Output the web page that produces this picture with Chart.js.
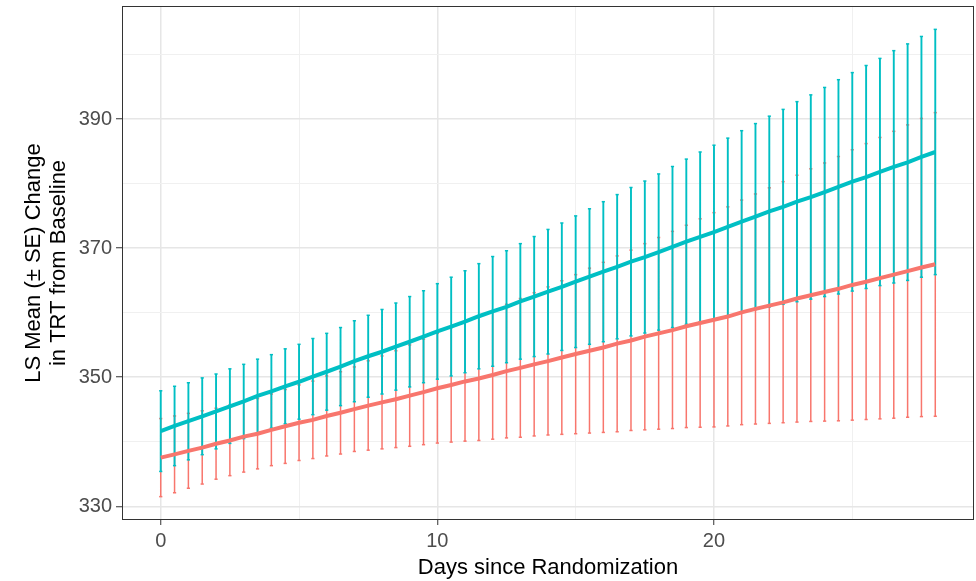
<!DOCTYPE html>
<html lang="en">
  <head>
    <meta charset="UTF-8" />
    <title>LS Mean Change in TRT from Baseline</title>
    <script src="https://cdn.jsdelivr.net/npm/chart.js"></script>
    <style>
      body {
        margin: 0;
        background-color: #ffffff;
      }
    </style>
  </head>
  <body>
    <canvas id="ls-chart" width="976" height="581"></canvas>

    <script>
      // Days since randomization (one error bar every half day)
      const days = [
        0, 0.5, 1, 1.5, 2, 2.5, 3, 3.5, 4, 4.5, 5, 5.5, 6, 6.5,
        7, 7.5, 8, 8.5, 9, 9.5, 10, 10.5, 11, 11.5, 12, 12.5, 13, 13.5,
        14, 14.5, 15, 15.5, 16, 16.5, 17, 17.5, 18, 18.5, 19, 19.5, 20, 20.5,
        21, 21.5, 22, 22.5, 23, 23.5, 24, 24.5, 25, 25.5, 26, 26.5, 27, 27.5, 28,
      ];

      // red group
      const redMean = [
        337.55, 338.05, 338.6, 339.1, 339.7, 340.2, 340.8, 341.25, 341.85, 342.4, 342.95, 343.4, 344.0, 344.5,
        345.05, 345.6, 346.1, 346.6, 347.15, 347.7, 348.3, 348.8, 349.35, 349.8, 350.35, 350.95, 351.45, 352.0,
        352.5, 353.05, 353.6, 354.1, 354.6, 355.2, 355.7, 356.3, 356.8, 357.3, 357.9, 358.4, 358.9, 359.4,
        360.05, 360.6, 361.1, 361.6, 362.2, 362.7, 363.2, 363.7, 364.3, 364.8, 365.35, 365.9, 366.45, 367.0, 367.5,
      ];
      const redLower = [
        331.5, 332.1, 332.8, 333.45, 334.2, 334.75, 335.3, 335.8, 336.3, 336.65, 337.1, 337.4, 337.8, 338.1,
        338.5, 338.7, 338.9, 339.1, 339.3, 339.55, 339.8, 339.95, 340.1, 340.2, 340.4, 340.6, 340.7, 340.9,
        341.05, 341.15, 341.25, 341.35, 341.45, 341.55, 341.75, 341.85, 341.95, 342.05, 342.2, 342.25, 342.3, 342.45,
        342.65, 342.75, 342.85, 342.95, 343.05, 343.15, 343.2, 343.25, 343.35, 343.45, 343.55, 343.65, 343.8, 343.9, 343.95,
      ];
      const redUpper = [
        343.6, 344.0, 344.4, 344.8, 345.2, 345.7, 346.3, 346.7, 347.4, 348.1, 348.8, 349.4, 350.2, 350.85,
        351.6, 352.55, 353.3, 354.1, 355.0, 355.9, 356.8, 357.7, 358.6, 359.4, 360.3, 361.3, 362.2, 363.1,
        364.0, 364.95, 365.9, 366.9, 367.8, 368.8, 369.7, 370.7, 371.65, 372.6, 373.55, 374.55, 375.5, 376.4,
        377.45, 378.4, 379.35, 380.3, 381.3, 382.3, 383.2, 384.2, 385.25, 386.2, 387.15, 388.1, 389.1, 390.1, 391.0,
      ];

      // blue group
      const blueMean = [
        341.65, 342.45, 343.2, 343.95, 344.7, 345.5, 346.25, 347.1, 347.8, 348.6, 349.3, 350.1, 350.85, 351.65,
        352.5, 353.25, 353.95, 354.75, 355.5, 356.3, 357.1, 357.85, 358.6, 359.45, 360.2, 360.9, 361.75, 362.5,
        363.25, 364.0, 364.8, 365.6, 366.35, 367.1, 367.9, 368.6, 369.4, 370.2, 371.0, 371.75, 372.5, 373.3,
        374.1, 374.9, 375.7, 376.4, 377.2, 377.9, 378.7, 379.5, 380.3, 381.0, 381.8, 382.6, 383.3, 384.15, 384.9,
      ];
      const blueLower = [
        335.4, 336.3, 337.2, 338.0, 338.9, 339.75, 340.5, 341.35, 342.1, 342.8, 343.5, 344.2, 344.9, 345.6,
        346.2, 346.9, 347.4, 348.0, 348.5, 349.15, 349.7, 350.2, 350.7, 351.3, 351.7, 352.25, 352.8, 353.2,
        353.6, 354.15, 354.6, 355.1, 355.5, 355.95, 356.4, 356.85, 357.3, 357.7, 358.2, 358.6, 359.0, 359.5,
        360.05, 360.5, 360.9, 361.3, 361.7, 362.1, 362.5, 362.9, 363.35, 363.75, 364.2, 364.6, 365.0, 365.5, 365.9,
      ];
      const blueUpper = [
        347.9, 348.6, 349.15, 349.9, 350.5, 351.3, 352.0, 352.8, 353.5, 354.4, 355.1, 356.0, 356.8, 357.7,
        358.75, 359.6, 360.5, 361.5, 362.5, 363.4, 364.5, 365.5, 366.5, 367.6, 368.7, 369.6, 370.7, 371.8,
        372.9, 373.9, 375.0, 376.1, 377.2, 378.3, 379.4, 380.4, 381.5, 382.65, 383.8, 384.9, 385.95, 387.05,
        388.2, 389.3, 390.45, 391.5, 392.7, 393.75, 394.9, 396.1, 397.2, 398.3, 399.4, 400.6, 401.65, 402.8, 403.9,
      ];

      const xMajor = [0, 10, 20];
      const xMinor = [5, 15, 25];
      const yMajor = [330, 350, 370, 390];
      const yMinor = [340, 360, 380, 400];

      const RED = "#F8766D";
      const BLUE = "#00BFC4";
      const FONT = "'Liberation Sans', Arial, sans-serif";

      // ggplot style 5% expansion of the data range
      const allY = redLower.concat(redUpper, blueLower, blueUpper);
      const yLo = Math.min(...allY);
      const yHi = Math.max(...allY);
      const xSpan = days[days.length - 1] - days[0];

      function barSegments(lo, hi) {
        const pts = [];
        days.forEach((d, i) => {
          pts.push({ x: d, y: lo[i] }, { x: d, y: hi[i] }, { x: d, y: null });
        });
        return pts;
      }

      function barCaps(lo, hi) {
        const pts = [];
        days.forEach((d, i) => {
          pts.push({ x: d, y: lo[i] }, { x: d, y: hi[i] });
        });
        return pts;
      }

      function meanLine(mean) {
        return days.map((d, i) => ({ x: d, y: mean[i] }));
      }

      const panelBorder = {
        id: "panelBorder",
        afterDatasetsDraw(chart) {
          const { ctx, chartArea: a } = chart;
          ctx.save();
          ctx.strokeStyle = "#333333";
          ctx.lineWidth = 1;
          ctx.strokeRect(a.left + 0.5, a.top + 0.5, a.right - a.left - 1, a.bottom - a.top - 1);
          ctx.restore();
        },
      };

      const isMajor = (list) => (ctx) => ctx.tick && list.includes(ctx.tick.value);

      new Chart(document.getElementById("ls-chart"), {
        type: "line",
        data: {
          datasets: [
            {
              label: "blue mean",
              data: meanLine(blueMean),
              borderColor: BLUE,
              borderWidth: 4,
              pointRadius: 0,
              order: 0,
            },
            {
              label: "red mean",
              data: meanLine(redMean),
              borderColor: RED,
              borderWidth: 4,
              pointRadius: 0,
              order: 1,
            },
            {
              type: "scatter",
              label: "blue caps",
              data: barCaps(blueLower, blueUpper),
              pointStyle: "line",
              pointRadius: 1.6,
              borderWidth: 1.5,
              borderColor: BLUE,
              backgroundColor: BLUE,
              order: 2,
            },
            {
              label: "blue bars",
              data: barSegments(blueLower, blueUpper),
              borderColor: BLUE,
              borderWidth: 1.9,
              pointRadius: 0,
              spanGaps: false,
              order: 3,
            },
            {
              type: "scatter",
              label: "red caps",
              data: barCaps(redLower, redUpper),
              pointStyle: "line",
              pointRadius: 1.6,
              borderWidth: 1.5,
              borderColor: RED,
              backgroundColor: RED,
              order: 4,
            },
            {
              label: "red bars",
              data: barSegments(redLower, redUpper),
              borderColor: RED,
              borderWidth: 1.5,
              pointRadius: 0,
              spanGaps: false,
              order: 5,
            },
          ],
        },
        options: {
          responsive: false,
          animation: false,
          devicePixelRatio: 1,
          events: [],
          layout: {
            autoPadding: false,
            padding: { top: 6, right: 2, left: 0, bottom: 0 },
          },
          plugins: {
            legend: { display: false },
            tooltip: { enabled: false },
          },
          scales: {
            x: {
              type: "linear",
              min: days[0] - 0.05 * xSpan,
              max: days[days.length - 1] + 0.05 * xSpan,
              afterBuildTicks: (scale) => {
                scale.ticks = xMajor.concat(xMinor).sort((a, b) => a - b).map((v) => ({ value: v }));
              },
              afterFit: (scale) => {
                scale.height = 61;
                scale.paddingLeft = 0;
                scale.paddingRight = 0;
              },
              ticks: {
                autoSkip: false,
                maxRotation: 0,
                padding: 4,
                color: "#4D4D4D",
                font: { family: FONT, size: 20 },
                callback: (v) => (xMajor.includes(v) ? String(v) : ""),
              },
              grid: {
                color: (ctx) => (isMajor(xMajor)(ctx) ? "#E6E6E6" : "#F0F0F0"),
                lineWidth: (ctx) => (isMajor(xMajor)(ctx) ? 1.5 : 1),
                tickLength: 5,
                tickWidth: 1,
                tickColor: (ctx) => (isMajor(xMajor)(ctx) ? "#333333" : "rgba(0,0,0,0)"),
              },
              border: { display: false },
              title: {
                display: true,
                text: "Days since Randomization",
                color: "#000000",
                font: { family: FONT, size: 22 },
                padding: { top: 0, bottom: 0 },
              },
            },
            y: {
              type: "linear",
              min: yLo - 0.05 * (yHi - yLo),
              max: yHi + 0.05 * (yHi - yLo),
              afterBuildTicks: (scale) => {
                scale.ticks = yMajor.concat(yMinor).sort((a, b) => a - b).map((v) => ({ value: v }));
              },
              afterFit: (scale) => {
                scale.width = 122;
                scale.paddingTop = 0;
                scale.paddingBottom = 0;
              },
              ticks: {
                autoSkip: false,
                padding: 4,
                color: "#4D4D4D",
                font: { family: FONT, size: 20 },
                callback: (v) => (yMajor.includes(v) ? String(v) : ""),
              },
              grid: {
                color: (ctx) => (isMajor(yMajor)(ctx) ? "#E6E6E6" : "#F0F0F0"),
                lineWidth: (ctx) => (isMajor(yMajor)(ctx) ? 1.5 : 1),
                tickLength: 6,
                tickWidth: 1,
                tickColor: (ctx) => (isMajor(yMajor)(ctx) ? "#333333" : "rgba(0,0,0,0)"),
              },
              border: { display: false },
              title: {
                display: true,
                text: ["LS Mean (\u00b1 SE) Change", "in TRT from Baseline"],
                color: "#000000",
                font: { family: FONT, size: 22, lineHeight: 1.15 },
                padding: { top: 21, bottom: 0 },
              },
            },
          },
        },
        plugins: [panelBorder],
      });
    </script>
  </body>
</html>
